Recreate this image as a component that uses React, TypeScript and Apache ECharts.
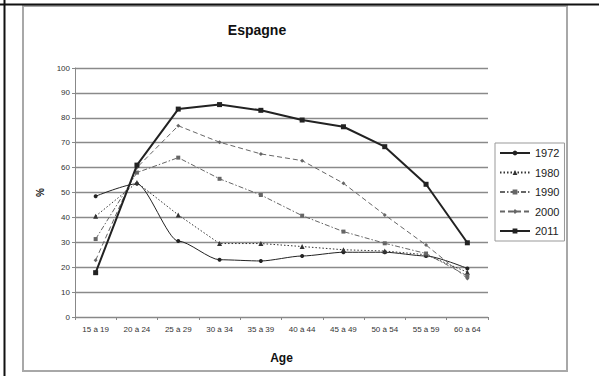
import React, { useEffect, useRef } from "react";
import * as echarts from "echarts";

const ages = ["15 à 19", "20 à 24", "25 à 29", "30 à 34", "35 à 39", "40 à 44", "45 à 49", "50 à 54", "55 à 59", "60 à 64"];
const yTicks = [0, 10, 20, 30, 40, 50, 60, 70, 80, 90, 100];
const s1972 = [48.5, 53.5, 30.5, 23, 22.5, 24.5, 26, 26, 24.5, 19.5];
const s1980 = [40.5, 54, 41, 29.5, 29.5, 28.3, 27, 26.5, 25, 18];
const s1990 = [31.3, 58, 64, 55.5, 49, 40.7, 34.3, 29.6, 25.5, 16.5];
const s2000 = [22.8, 60, 76.8, 70.2, 65.5, 62.8, 53.7, 41, 28.9, 15.5];
const s2011 = [17.8, 61, 83.5, 85.3, 83, 79.1, 76.4, 68.4, 53.3, 29.8];

const FONT = "Liberation Sans, Arial, sans-serif";

export default function App() {
  const ref = useRef<HTMLDivElement>(null);
  useEffect(() => {
    document.body.style.margin = "0";
    const chart = echarts.init(ref.current!, null, { renderer: "svg" });
    const mk = (name: string, data: number[], opts: any) => ({
      name,
      type: "line",
      data,
      symbol: opts.symbol,
      symbolSize: opts.symbolSize,
      smooth: opts.smooth || false,
      smoothMonotone: opts.smooth ? "x" : undefined,
      lineStyle: { color: opts.color, width: opts.width, type: opts.type },
      itemStyle: { color: opts.color },
      z: opts.z || 2,
    });
    chart.setOption({
      animation: false,
      backgroundColor: "#fff",
      graphic: [
        { type: "rect", shape: { x: 23, y: 6, width: 544, height: 365 }, style: { fill: "none", stroke: "#a8a8a8", lineWidth: 2 }, z: -1 },
        { type: "line", shape: { x1: 0, y1: 4.5, x2: 599, y2: 4.5 }, style: { stroke: "#111", lineWidth: 2 } },
        { type: "line", shape: { x1: 4.5, y1: 0, x2: 4.5, y2: 376 }, style: { stroke: "#111", lineWidth: 2 } },
        {
          type: "text", x: 257, y: 30,
          style: { text: "Espagne", font: `bold 14px ${FONT}`, fill: "#111", textAlign: "center", textVerticalAlign: "middle" },
        },
      ],
      grid: { left: 75, right: 111, top: 68, bottom: 59 },
      legend: {
        orient: "vertical",
        left: 495,
        top: 143,
        padding: [4.5, 5, 4.5, 4],
        itemWidth: 30,
        itemHeight: 6,
        itemGap: 8.5,
        borderColor: "#999",
        borderWidth: 1,
        textStyle: { fontFamily: FONT, fontSize: 11, color: "#222" },
        data: ["1972", "1980", "1990", "2000", "2011"],
      },
      xAxis: {
        type: "category",
        data: ages,
        boundaryGap: true,
        name: "Age",
        nameLocation: "middle",
        nameGap: 35,
        nameTextStyle: { fontFamily: FONT, fontSize: 12, fontWeight: "bold", color: "#111" },
        axisLine: { lineStyle: { color: "#888", width: 1 } },
        axisTick: { show: true, length: 3, lineStyle: { color: "#888" } },
        axisLabel: { fontFamily: FONT, fontSize: 8, color: "#333", margin: 8 },
        splitLine: { show: false },
      },
      yAxis: {
        type: "value",
        min: 0,
        max: 100,
        interval: 10,
        name: "%",
        nameLocation: "middle",
        nameGap: 30,
        nameRotate: 90,
        nameTextStyle: { fontFamily: FONT, fontSize: 10, fontWeight: "bold", color: "#111" },
        axisLine: { show: true, lineStyle: { color: "#888", width: 1 } },
        axisTick: { show: true, length: 3, lineStyle: { color: "#888" } },
        axisLabel: { fontFamily: FONT, fontSize: 8, color: "#333", margin: 5, formatter: (v: number) => (yTicks.includes(v) ? String(v) : "") },
        splitLine: { show: true, lineStyle: { color: "#8a8a8a", width: 1.3 } },
      },
      series: [
        mk("1972", s1972, { symbol: "circle", symbolSize: 4, color: "#222", width: 1, type: "solid", smooth: 0.25 }),
        mk("1980", s1980, { symbol: "triangle", symbolSize: 5, color: "#333", width: 1, type: [1.5, 2] }),
        mk("1990", s1990, { symbol: "rect", symbolSize: 4, color: "#666", width: 1, type: [5, 2, 1.5, 2] }),
        mk("2000", s2000, { symbol: "diamond", symbolSize: 4, color: "#666", width: 1, type: [5, 3] }),
        mk("2011", s2011, { symbol: "rect", symbolSize: 5, color: "#222", width: 2, type: "solid", z: 5 }),
      ],
    });
    return () => chart.dispose();
  }, []);
  return <div ref={ref} style={{ position: "fixed", left: 0, top: 0, width: 599, height: 376 }} />;
}
